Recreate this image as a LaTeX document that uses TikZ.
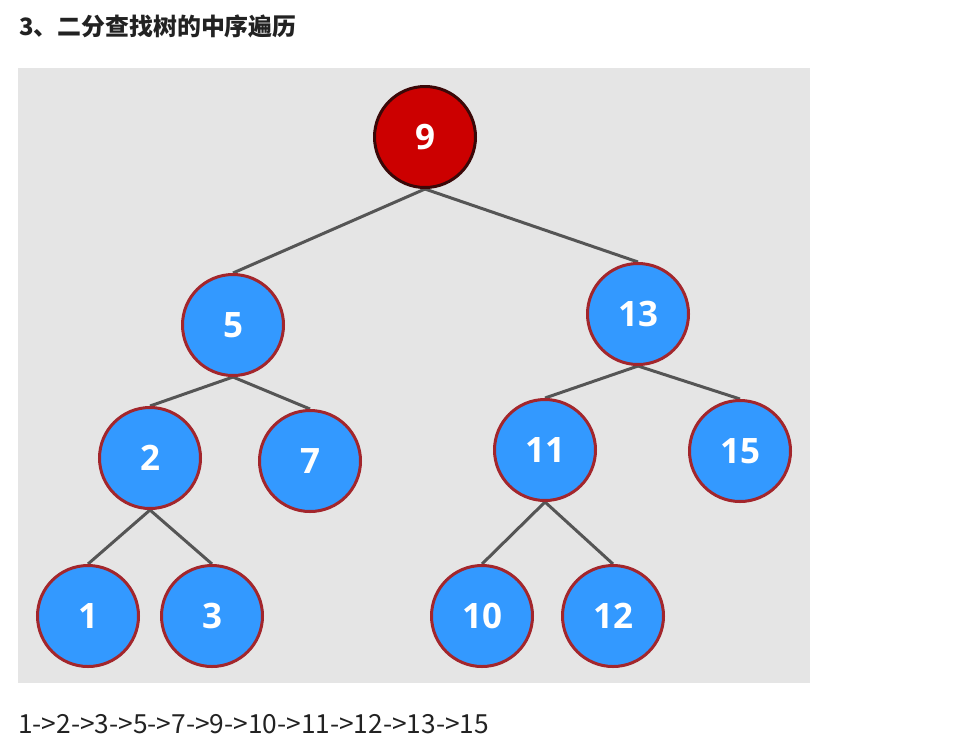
\documentclass[tikz,border=0pt]{standalone}
\usepackage{fontspec}
\usepackage{xcolor}
\usepackage{tikz}
\usetikzlibrary{positioning,backgrounds}
\setmainfont{Open Sans}
\newfontfamily\cjkfont{Noto Sans CJK SC}
\definecolor{treeblue}{HTML}{3399FF}
\definecolor{treerim}{HTML}{A3262C}
\definecolor{rootred}{HTML}{CC0000}
\definecolor{rootrim}{HTML}{3A0808}
\definecolor{panelgray}{HTML}{E5E5E5}
\definecolor{edgegray}{HTML}{555555}
\definecolor{inktext}{HTML}{222222}

\begin{document}
\begin{tikzpicture}[
    x=1pt,y=-1pt,
    knot/.style    = {circle, draw=treerim, fill=treeblue, line width=3pt,
                      minimum size=101pt, inner sep=0pt, text=white,
                      font=\fontsize{35}{40}\selectfont\bfseries},
    rootknot/.style= {knot, draw=rootrim, fill=rootred},
    branch/.style  = {edgegray, line width=3pt},
    titre/.style   = {font=\cjkfont\bfseries\fontsize{23.9}{28}\selectfont,
                      text=inktext, inner sep=0pt, anchor=west},
    ordre/.style   = {font=\cjkfont\fontsize{26.3}{30}\selectfont,
                      text=inktext, inner sep=0pt, anchor=west},
  ]

  \useasboundingbox (0,0) rectangle (976,748);

  % ── Titre ───────────────────────────────────────────────────────────────
  \node[titre] (title) at (19,26) {3、二分查找树的中序遍历};

  % ── Racine et niveaux ───────────────────────────────────────────────────
  \node[rootknot] (n9)  at (425,137) {9};

  \node[knot] (n5)  at (233,325) {5};
  \node[knot] (n13) at (638,314) {13};

  \node[knot] (n2)  at (150,458) {2};
  \node[knot] (n7)  at (310,461) {7};
  \node[knot] (n11) at (545,450) {11};
  \node[knot] (n15) at (740,451) {15};

  \node[knot] (n1)  at (88,616)  {1};
  \node[knot] (n3)  at (212,616) {3};
  \node[knot] (n10) at (482,616) {10};
  \node[knot] (n12) at (613,616) {12};

  % ── Fond et arêtes ──────────────────────────────────────────────────────
  \begin{scope}[on background layer]
    \fill[panelgray] (18,68) rectangle (810,683);
    \draw[branch] (n9.south)  -- (n5.north);
    \draw[branch] (n9.south)  -- (n13.north);
    \draw[branch] (n5.south)  -- (n2.north);
    \draw[branch] (n5.south)  -- (n7.north);
    \draw[branch] (n13.south) -- (n11.north);
    \draw[branch] (n13.south) -- (n15.north);
    \draw[branch] (n2.south)  -- (n1.north);
    \draw[branch] (n2.south)  -- (n3.north);
    \draw[branch] (n11.south) -- (n10.north);
    \draw[branch] (n11.south) -- (n12.north);
  \end{scope}

  % ── Parcours ────────────────────────────────────────────────────────────
  \node[ordre] (trail) at (18,724) {1->2->3->5->7->9->10->11->12->13->15};

\end{tikzpicture}
\end{document}
